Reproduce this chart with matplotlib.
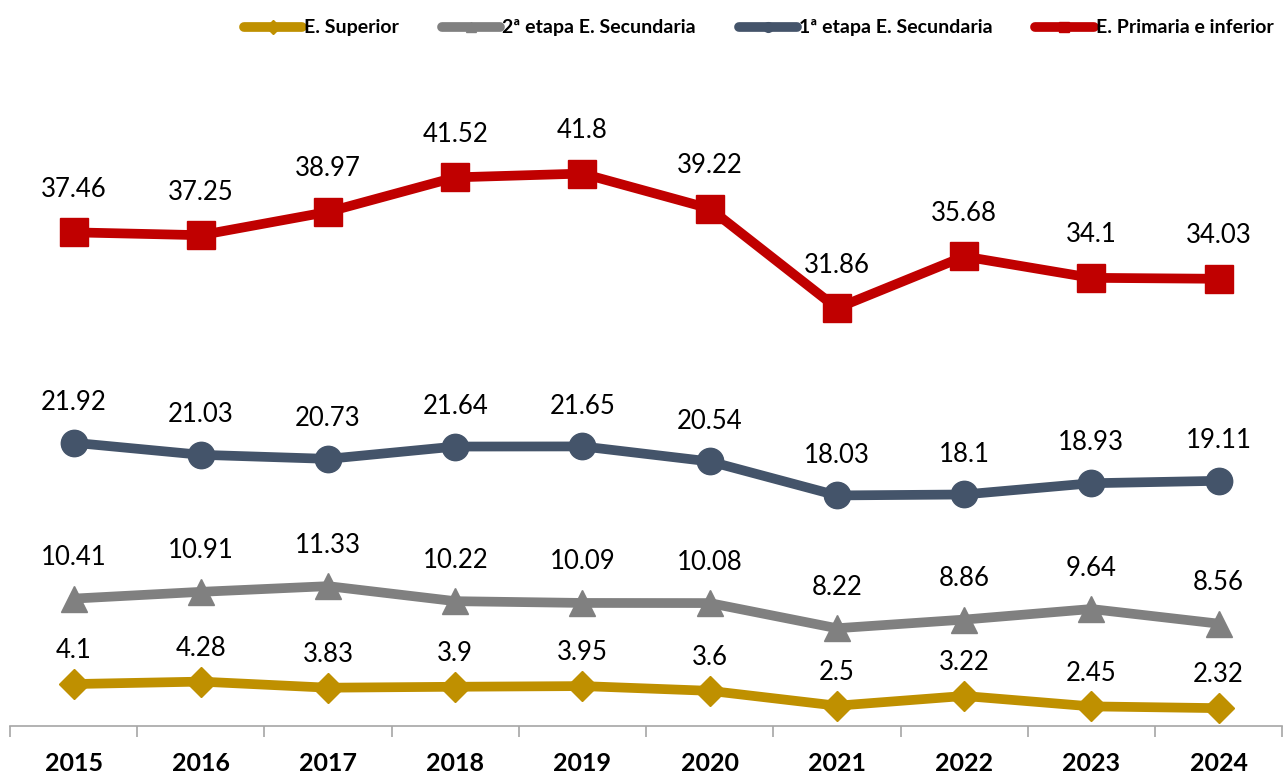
import numpy as np
import matplotlib.pyplot as plt
from matplotlib.lines import Line2D

plt.rcParams['font.family'] = ['Lato', 'DejaVu Sans']

years = ["2015", "2016", "2017", "2018", "2019", "2020", "2021", "2022", "2023", "2024"]
superior = [4.1, 4.28, 3.83, 3.9, 3.95, 3.6, 2.5, 3.22, 2.45, 2.32]
secundaria_2 = [10.41, 10.91, 11.33, 10.22, 10.09, 10.08, 8.22, 8.86, 9.64, 8.56]
secundaria_1 = [21.92, 21.03, 20.73, 21.64, 21.65, 20.54, 18.03, 18.1, 18.93, 19.11]
primaria = [37.46, 37.25, 38.97, 41.52, 41.8, 39.22, 31.86, 35.68, 34.1, 34.03]

# name, values, colour, marker, marker size, label offset (pt)
series = [
    ("E. Superior", superior, "#BF9000", "D", 15, 24),
    ("2ª etapa E. Secundaria", secundaria_2, "#808080", "^", 19, 29.5),
    ("1ª etapa E. Secundaria", secundaria_1, "#44546A", "o", 19, 29),
    ("E. Primaria e inferior", primaria, "#C00000", "s", 20, 31),
]

fig = plt.figure(figsize=(12.85, 7.76), dpi=100)
ax = fig.add_axes([0.0078, 0.0644, 0.99, 0.855])

x = np.arange(len(years))
for name, vals, color, mk, ms, off in series:
    ax.plot(x, vals, color=color, lw=7, marker=mk, ms=ms, label=name,
            solid_joinstyle="round", solid_capstyle="round")
    for xi, v in zip(x, vals):
        ax.annotate(f"{v:g}", (xi, v), xytext=(0, off), textcoords="offset points",
                    ha="center", va="center", fontsize=18.5, color="black")

ax.set_xlim(-0.5, len(years) - 0.5)
ax.set_ylim(1, 50)
ax.set_xticks(x)
ax.set_xticklabels(years, fontsize=18, fontweight="bold")
ax.set_xticks(np.arange(-0.5, len(years)), minor=True)
ax.tick_params(axis="x", which="major", length=0, pad=19)
ax.tick_params(axis="x", which="minor", length=8, color="#A6A6A6", width=1.2)
ax.set_yticks([])
for s in ["top", "right", "left"]:
    ax.spines[s].set_visible(False)
ax.spines["bottom"].set_color("#A6A6A6")
ax.spines["bottom"].set_linewidth(1.2)

labels = [s[0] for s in series]
leg_handles = [Line2D([0], [0], color=s[2], lw=7, marker=s[3], ms=7,
                      solid_capstyle="round") for s in series]
fig.legend(leg_handles, labels, loc="upper right", bbox_to_anchor=(1.0, 0.99),
           ncol=4, frameon=False, prop={"weight": "bold", "size": 14},
           handlelength=3.0, handletextpad=0.1, columnspacing=2.2,
           borderaxespad=0.2)

fig.savefig("out.png", dpi=100)
